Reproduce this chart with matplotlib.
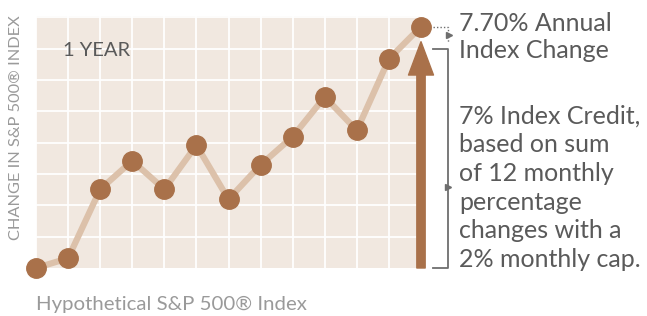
import matplotlib.pyplot as plt
from matplotlib.patches import FancyArrowPatch

# --------------------------------------------------
# Data
# --------------------------------------------------
months = list(range(13))
index_change = [0.0, 0.31, 2.51, 3.42, 2.51, 3.92, 2.19, 3.29, 4.19, 5.46, 4.39, 6.67, 7.70]
index_credit = 7.0
annual_change = index_change[-1]

period_label = "1 YEAR"
y_label = "CHANGE IN S&P 500\u00ae INDEX"
x_label = "Hypothetical S&P 500\u00ae Index"
annual_text = "7.70% Annual\nIndex Change"
credit_text = ("7% Index Credit,\nbased on sum\nof 12 monthly\n"
               "percentage\nchanges with a\n2% monthly cap.")

# --------------------------------------------------
# Style
# --------------------------------------------------
BG = "#F1E8E0"
LINE = "#DCC1AA"
DOT = "#A9714A"
TEXT = "#5A5A5A"
MUTED = "#9A9A9A"
BRACKET = "#6E6E6E"

plt.rcParams["font.family"] = ["Lato", "DejaVu Sans"]

W, H = 647, 316
fig = plt.figure(figsize=(W / 100, H / 100), dpi=100)
ax = fig.add_axes([36 / W, (H - 268) / H, 385 / W, 252 / H])

ax.set_facecolor(BG)
ax.set_xlim(0, 12)
ax.set_ylim(0, 8.04)
for x in months:
    ax.axvline(x, color="white", lw=1.3, zorder=1)
for y in range(1, 9):
    ax.axhline(y, color="white", lw=1.3, zorder=1)
for s in ax.spines.values():
    s.set_visible(False)
ax.set_xticks([])
ax.set_yticks([])

# Line + markers
ax.plot(months, index_change, color=LINE, lw=4.5, zorder=2,
        solid_capstyle="round", clip_on=False)
ax.plot(months, index_change, "o", color=DOT, ms=14, zorder=4,
        clip_on=False)

# Index credit arrow
arrow = FancyArrowPatch(
    (months[-1], 0), (months[-1], index_credit + 0.22),
    arrowstyle="simple,head_length=24,head_width=18,tail_width=6",
    mutation_scale=1, color=DOT, shrinkA=0, shrinkB=0,
    zorder=3, clip_on=False
)
ax.add_patch(arrow)

# Brackets
bx0, bx1 = 12.37, 12.84
ax.plot([bx0, bx1, bx1, bx0], [index_credit, index_credit, 0, 0],
        color=BRACKET, lw=1.3, clip_on=False, zorder=3)
ax.plot([bx1], [2.6], ">", color=BRACKET, ms=5, clip_on=False)
ax.plot([bx0, bx1, bx1], [annual_change, annual_change, 7.18],
        color=BRACKET, lw=1.0, ls=(0, (1, 1.5)), clip_on=False)
ax.plot([bx1 + 0.02], [7.44], ">", color=BRACKET, ms=4, clip_on=False)

# Texts
ax.text(0.84, 6.77, period_label, color=TEXT, fontsize=14.5,
        va="baseline")
fig.text(16 / W, (H - 128) / H, y_label, rotation=90, color=MUTED,
         fontsize=11.8, ha="center", va="center")
fig.text(36 / W, (H - 310) / H, x_label, color=MUTED, fontsize=14.7,
         va="baseline")
fig.text(459 / W, (H - 58) / H, annual_text, color=TEXT, fontsize=18,
         va="baseline", linespacing=1.22)
fig.text(459 / W, (H - 267) / H, credit_text, color=TEXT, fontsize=18,
         va="baseline", linespacing=1.3)

fig.savefig("out.png", dpi=100, facecolor="white")
